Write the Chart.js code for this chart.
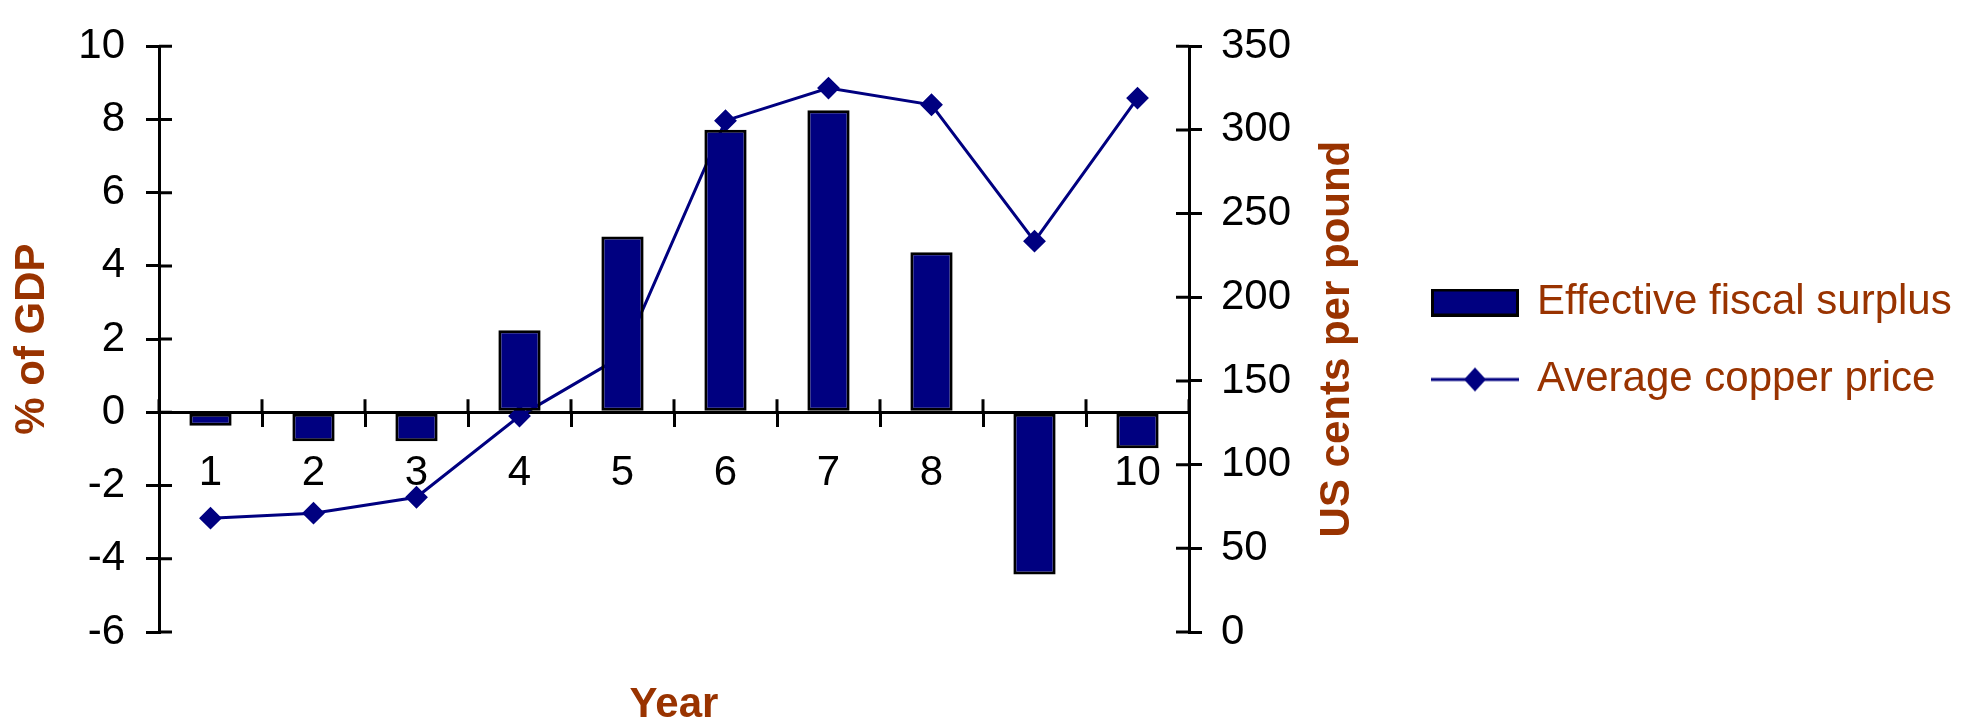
<!DOCTYPE html>
<html>
<head>
<meta charset="utf-8">
<title>Effective fiscal surplus and copper price</title>
<script src="https://cdn.jsdelivr.net/npm/chart.js@4.4.1/dist/chart.umd.min.js"></script>
<style>
    html, body { margin: 0; padding: 0; background: #ffffff; }
    #wrap { width: 1975px; height: 724px; }
</style>
</head>
<body>
<div id="wrap"><canvas id="chart" width="1975" height="724"></canvas></div>
<script>
// Datos
const years = ['1', '2', '3', '4', '5', '6', '7', '8', '9', '10'];
const fiscalSurplus = [-0.37, -0.79, -0.79, 2.24, 4.8, 7.72, 8.25, 4.37, -4.43, -0.98];
const copperPrice = [68, 71, 80.5, 129, 165, 305.5, 325, 315, 233.5, 319];

const gdpRange = [-6, 10];
const gdpStep = 2;
const centsRange = [0, 350];
const centsStep = 50;

const NAVY = '#000080';
const BROWN = '#993300';
const FONT = "'Liberation Sans', Arial, sans-serif";

Chart.defaults.font.family = FONT;
Chart.defaults.color = '#000';

// Iconos de la leyenda
function makeIcon(w, h, draw) {
    const c = document.createElement('canvas');
    c.width = w;
    c.height = h;
    draw(c.getContext('2d'));
    return c;
}

const barIcon = makeIcon(88, 28, g => {
    g.fillStyle = NAVY;
    g.fillRect(0, 0, 88, 28);
    g.strokeStyle = '#000';
    g.lineWidth = 3;
    g.strokeRect(1.5, 1.5, 85, 25);
});

const lineIcon = makeIcon(88, 26, g => {
    g.strokeStyle = NAVY;
    g.lineWidth = 3;
    g.beginPath();
    g.moveTo(0, 13);
    g.lineTo(88, 13);
    g.stroke();
    g.fillStyle = NAVY;
    g.beginPath();
    g.moveTo(33, 13);
    g.lineTo(44, 1);
    g.lineTo(55, 13);
    g.lineTo(44, 25);
    g.closePath();
    g.fill();
});

const legendIcons = [barIcon, lineIcon];

// Marcas que cruzan los ejes y título del eje derecho
const crossTicks = {
    id: 'crossTicks',
    beforeDatasetsDraw(chart) {
        const { ctx, scales: { x, y, y1 } } = chart;
        const len = 13;
        ctx.save();
        ctx.strokeStyle = '#000';
        ctx.lineWidth = 3;
        ctx.beginPath();
        y.ticks.forEach(t => {
            const py = y.getPixelForValue(t.value);
            ctx.moveTo(y.right, py);
            ctx.lineTo(y.right + len, py);
        });
        y1.ticks.forEach(t => {
            const py = y1.getPixelForValue(t.value);
            ctx.moveTo(y1.left - len, py);
            ctx.lineTo(y1.left, py);
        });
        const base = y.getPixelForValue(0);
        for (let i = 0; i <= years.length; i++) {
            const px = x.getPixelForValue(i - 0.5);
            ctx.moveTo(px, base - len);
            ctx.lineTo(px, base);
        }
        ctx.stroke();
        ctx.restore();
    },
    afterDraw(chart) {
        const { ctx, chartArea, scales: { y1 } } = chart;
        ctx.save();
        ctx.translate(y1.left + 160, (chartArea.top + chartArea.bottom) / 2);
        ctx.rotate(-Math.PI / 2);
        ctx.font = 'bold 42px ' + FONT;
        ctx.fillStyle = BROWN;
        ctx.textAlign = 'center';
        ctx.textBaseline = 'alphabetic';
        ctx.fillText('US cents per pound', 0, 0);
        ctx.restore();
    }
};

new Chart(document.getElementById('chart'), {
    type: 'bar',
    data: {
        labels: years,
        datasets: [{
            type: 'bar',
            label: 'Effective fiscal surplus',
            data: fiscalSurplus,
            yAxisID: 'y',
            backgroundColor: NAVY,
            borderColor: '#000',
            borderWidth: 3,
            borderSkipped: false,
            categoryPercentage: 1,
            barPercentage: 0.41,
            order: 1
        }, {
            type: 'line',
            label: 'Average copper price',
            data: copperPrice,
            yAxisID: 'y1',
            borderColor: NAVY,
            backgroundColor: NAVY,
            borderWidth: 3,
            tension: 0,
            pointStyle: 'rectRot',
            pointRadius: 10,
            pointBorderWidth: 2,
            pointBackgroundColor: NAVY,
            pointBorderColor: NAVY,
            order: 2
        }]
    },
    options: {
        responsive: false,
        animation: false,
        layout: {
            padding: { left: 0, right: 21, top: 31, bottom: 92 }
        },
        plugins: {
            tooltip: { enabled: false },
            legend: {
                position: 'right',
                maxWidth: 555,
                title: {
                    display: true,
                    text: '',
                    font: { size: 10, lineHeight: 1 },
                    padding: { top: 5, bottom: 4 }
                },
                labels: {
                    usePointStyle: true,
                    pointStyleWidth: 82,
                    padding: 35,
                    color: BROWN,
                    font: { size: 42 },
                    generateLabels(chart) {
                        const items = Chart.defaults.plugins.legend.labels.generateLabels(chart);
                        items.forEach(item => {
                            item.pointStyle = legendIcons[item.datasetIndex];
                            item.fontColor = BROWN;
                        });
                        return items;
                    }
                }
            }
        },
        scales: {
            x: {
                position: { y: 0 },
                z: 1,
                offset: true,
                grid: {
                    offset: true,
                    drawOnChartArea: false,
                    drawTicks: true,
                    tickLength: 13,
                    color: '#000',
                    lineWidth: 3
                },
                border: { display: true, color: '#000', width: 3 },
                ticks: {
                    color: '#000',
                    font: { size: 42 },
                    padding: 23,
                    maxRotation: 0,
                    autoSkip: false
                },
                title: {
                    display: true,
                    text: 'Year',
                    color: BROWN,
                    font: { size: 42, weight: 'bold' },
                    padding: 0
                },
                afterFit(scale) {
                    scale.height = 318;
                }
            },
            y: {
                position: 'left',
                min: gdpRange[0],
                max: gdpRange[1],
                ticks: {
                    stepSize: gdpStep,
                    color: '#000',
                    font: { size: 42 },
                    padding: 21
                },
                grid: {
                    drawOnChartArea: false,
                    drawTicks: true,
                    tickLength: 13,
                    color: '#000',
                    lineWidth: 3
                },
                border: { display: true, color: '#000', width: 3 },
                title: {
                    display: true,
                    text: '% of GDP',
                    color: BROWN,
                    font: { size: 42, weight: 'bold' },
                    padding: { top: 7, bottom: 0 }
                },
                afterFit(scale) {
                    scale.width = 159;
                }
            },
            y1: {
                position: 'right',
                min: centsRange[0],
                max: centsRange[1],
                ticks: {
                    stepSize: centsStep,
                    color: '#000',
                    font: { size: 42 },
                    padding: 19
                },
                grid: {
                    drawOnChartArea: false,
                    drawTicks: true,
                    tickLength: 13,
                    color: '#000',
                    lineWidth: 3
                },
                border: { display: true, color: '#000', width: 3 },
                afterFit(scale) {
                    scale.width = 210;
                }
            }
        }
    },
    plugins: [crossTicks]
});
</script>
</body>
</html>
